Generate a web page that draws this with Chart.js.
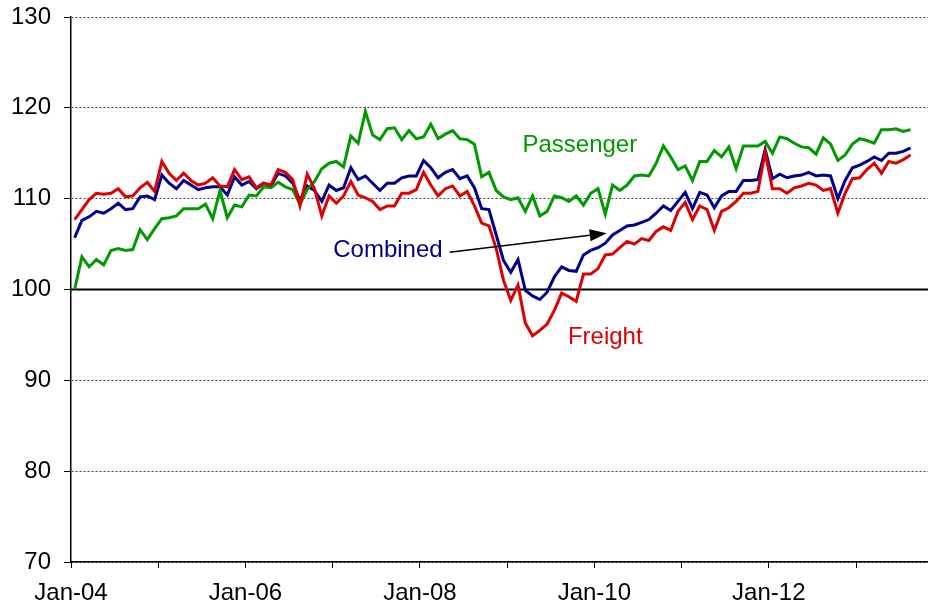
<!DOCTYPE html>
<html>
<head>
<meta charset="utf-8">
<script src="https://cdn.jsdelivr.net/npm/chart.js@4.4.0/dist/chart.umd.min.js"></script>
<style>
  body { margin: 0; background: #fff; }
  #wrap { width: 928px; height: 606px; }
</style>
</head>
<body>
<div id="wrap"><canvas id="line-chart"></canvas></div>
<script>
// monthly index values, Jan-04 .. Aug-13
const tickLabels = ['Jan-04', 'Jan-06', 'Jan-08', 'Jan-10', 'Jan-12'];

const freight = [
  107.7, 108.8, 109.9, 110.6, 110.5, 110.6, 111.1, 110.2, 110.3, 111.2,
  111.8, 110.8, 114.1, 112.8, 112.0, 112.8, 112.0, 111.5, 111.7, 112.3,
  111.4, 111.3, 113.2, 112.1, 112.4, 111.2, 111.7, 111.5, 113.2, 112.9,
  112.1, 109.2, 112.7, 111.1, 108.1, 110.3, 109.5, 110.3, 111.9, 110.4,
  110.1, 109.7, 108.8, 109.2, 109.2, 110.6, 110.6, 111.0, 112.9, 111.5,
  110.3, 111.1, 111.4, 110.3, 110.8, 109.2, 107.3, 107.0, 104.5, 101.0,
  98.8, 100.5, 96.3, 94.9, 95.5, 96.2, 97.7, 99.6, 99.2, 98.7,
  101.7, 101.7, 102.3, 103.8, 103.9, 104.6, 105.3, 105.0, 105.6, 105.4,
  106.4, 106.9, 106.5, 108.6, 109.6, 107.7, 109.2, 108.8, 106.5, 108.6,
  109.0, 109.7, 110.6, 110.6, 110.8, 115.1, 111.1, 111.1, 110.6, 111.2,
  111.4, 111.7, 111.5, 110.9, 111.1, 108.4, 110.6, 112.2, 112.3, 113.2,
  113.9, 112.8, 114.1, 113.9, 114.3, 114.8
];

const combined = [
  105.7, 107.6, 108.0, 108.6, 108.4, 108.9, 109.5, 108.8, 108.9, 110.2,
  110.3, 109.9, 112.6, 111.7, 111.1, 112.0, 111.5, 111.0, 111.2, 111.3,
  111.3, 110.4, 112.4, 111.5, 111.9, 111.1, 111.7, 111.4, 112.8, 112.5,
  111.7, 109.8, 111.4, 110.9, 109.7, 111.5, 110.9, 111.2, 113.4, 112.1,
  112.5, 111.7, 110.9, 111.7, 111.7, 112.3, 112.5, 112.5, 114.2, 113.4,
  112.3, 112.9, 113.2, 112.2, 112.5, 111.2, 108.9, 108.8, 106.0, 103.2,
  101.9, 103.3, 99.9, 99.3, 98.9, 99.7, 101.4, 102.5, 102.1, 102.0,
  103.8, 104.3, 104.6, 105.1, 106.0, 106.5, 107.0, 107.1, 107.4, 107.7,
  108.4, 109.2, 108.7, 109.7, 110.7, 108.9, 110.7, 110.4, 109.0, 110.3,
  110.8, 110.8, 112.0, 112.0, 112.1, 115.4, 112.2, 112.7, 112.3, 112.5,
  112.6, 112.9, 112.5, 112.6, 112.5, 110.0, 112.0, 113.4, 113.7, 114.1,
  114.6, 114.2, 115.0, 115.0, 115.2, 115.6
];

const passenger = [
  100.0, 103.6, 102.5, 103.3, 102.7, 104.3, 104.5, 104.3, 104.4, 106.6,
  105.5, 106.7, 107.8, 107.9, 108.1, 108.9, 108.9, 108.9, 109.4, 107.8,
  110.9, 107.9, 109.3, 109.1, 110.4, 110.3, 111.3, 111.2, 111.8, 111.3,
  111.0, 109.4, 111.0, 111.9, 113.3, 113.9, 114.1, 113.5, 116.9, 116.1,
  119.6, 117.0, 116.5, 117.7, 117.8, 116.5, 117.5, 116.6, 116.8, 118.2,
  116.6, 117.1, 117.5, 116.6, 116.5, 116.0, 112.4, 112.9, 110.9, 110.2,
  109.9, 110.1, 108.6, 110.3, 108.1, 108.6, 110.3, 110.1, 109.7, 110.3,
  109.3, 110.6, 111.1, 108.3, 111.5, 110.9, 111.5, 112.5, 112.6, 112.5,
  113.9, 115.8, 114.6, 113.2, 113.6, 112.0, 114.1, 114.1, 115.3, 114.6,
  115.7, 113.3, 115.8, 115.8, 115.8, 116.3, 115.0, 116.8, 116.6, 116.1,
  115.7, 115.6, 114.9, 116.7, 116.0, 114.2, 114.8, 116.0, 116.6, 116.4,
  116.1, 117.6, 117.6, 117.7, 117.4, 117.6
];

const baseline = 100;

const FONT = 'Arial, "Liberation Sans", sans-serif';
const GREEN = '#009a00', RED = '#dd0000', NAVY = '#00008c';

// x is months since Jan-04, values sit mid-month
function points(values) {
  return values.map((v, i) => ({ x: i + 0.5, y: v }));
}

const overlay = {
  id: 'overlay',
  beforeDatasetsDraw(chart) {
    const { ctx, chartArea, scales: { y } } = chart;
    const py = y.getPixelForValue(baseline);
    ctx.save();
    ctx.strokeStyle = '#000';
    ctx.lineWidth = 2;
    ctx.beginPath();
    ctx.moveTo(chartArea.left, py);
    ctx.lineTo(chartArea.right, py);
    ctx.stroke();
    ctx.restore();
  },
  afterDatasetsDraw(chart) {
    const { ctx, scales: { x, y } } = chart;
    ctx.save();
    ctx.font = '24px ' + FONT;
    ctx.textAlign = 'center';
    ctx.textBaseline = 'middle';
    ctx.fillStyle = GREEN;
    ctx.fillText('Passenger', x.getPixelForValue(70.0), y.getPixelForValue(115.9));
    ctx.fillStyle = NAVY;
    ctx.fillText('Combined', x.getPixelForValue(43.6), y.getPixelForValue(104.35));
    ctx.fillStyle = RED;
    ctx.fillText('Freight', x.getPixelForValue(73.5), y.getPixelForValue(94.7));

    // arrow from the Combined label to its line
    const x1 = x.getPixelForValue(52.1), y1 = y.getPixelForValue(104.1);
    const x2 = x.getPixelForValue(73.7), y2 = y.getPixelForValue(106.2);
    const a = Math.atan2(y2 - y1, x2 - x1);
    const head = 17, half = 6;
    const bx = x2 - head * Math.cos(a), by = y2 - head * Math.sin(a);
    ctx.strokeStyle = '#000';
    ctx.fillStyle = '#000';
    ctx.lineWidth = 1.5;
    ctx.beginPath();
    ctx.moveTo(x1, y1);
    ctx.lineTo(bx, by);
    ctx.stroke();
    ctx.beginPath();
    ctx.moveTo(x2, y2);
    ctx.lineTo(bx - half * Math.sin(a), by + half * Math.cos(a));
    ctx.lineTo(bx + half * Math.sin(a), by - half * Math.cos(a));
    ctx.closePath();
    ctx.fill();
    ctx.restore();
  }
};

new Chart(document.getElementById('line-chart'), {
  type: 'line',
  data: {
    datasets: [
      { label: 'Freight', data: points(freight), borderColor: RED, order: 0 },
      { label: 'Passenger', data: points(passenger), borderColor: GREEN, order: 1 },
      { label: 'Combined', data: points(combined), borderColor: NAVY, order: 2 }
    ]
  },
  options: {
    responsive: true,
    maintainAspectRatio: false,
    animation: false,
    elements: {
      line: { borderWidth: 3, tension: 0, fill: false },
      point: { radius: 0 }
    },
    layout: { padding: { top: 17, right: 0, left: 0, bottom: 0 } },
    plugins: { legend: { display: false }, tooltip: { enabled: false } },
    scales: {
      x: {
        type: 'linear',
        min: 0,
        max: 117.9,
        afterFit: s => { s.height = 44; },
        border: { color: '#000', width: 1.5 },
        grid: { drawOnChartArea: false, drawTicks: true, tickLength: 6, tickColor: '#000', tickWidth: 1 },
        ticks: {
          stepSize: 12,
          includeBounds: false,
          autoSkip: false,
          maxRotation: 0,
          padding: 11,
          color: '#000',
          font: { family: FONT, size: 24 },
          callback: (v, i) => (i % 2 === 0 ? tickLabels[i / 2] || '' : '')
        }
      },
      y: {
        min: 70,
        max: 130,
        afterFit: s => { s.width = 71; },
        border: { color: '#000', width: 1.5, dash: [2, 2] },
        grid: { color: '#444', lineWidth: 1, tickLength: 7, tickColor: '#000', tickWidth: 1 },
        ticks: {
          stepSize: 10,
          padding: 13,
          color: '#000',
          font: { family: FONT, size: 24, lineHeight: 0.3 }
        }
      }
    }
  },
  plugins: [overlay]
});
</script>
</body>
</html>
